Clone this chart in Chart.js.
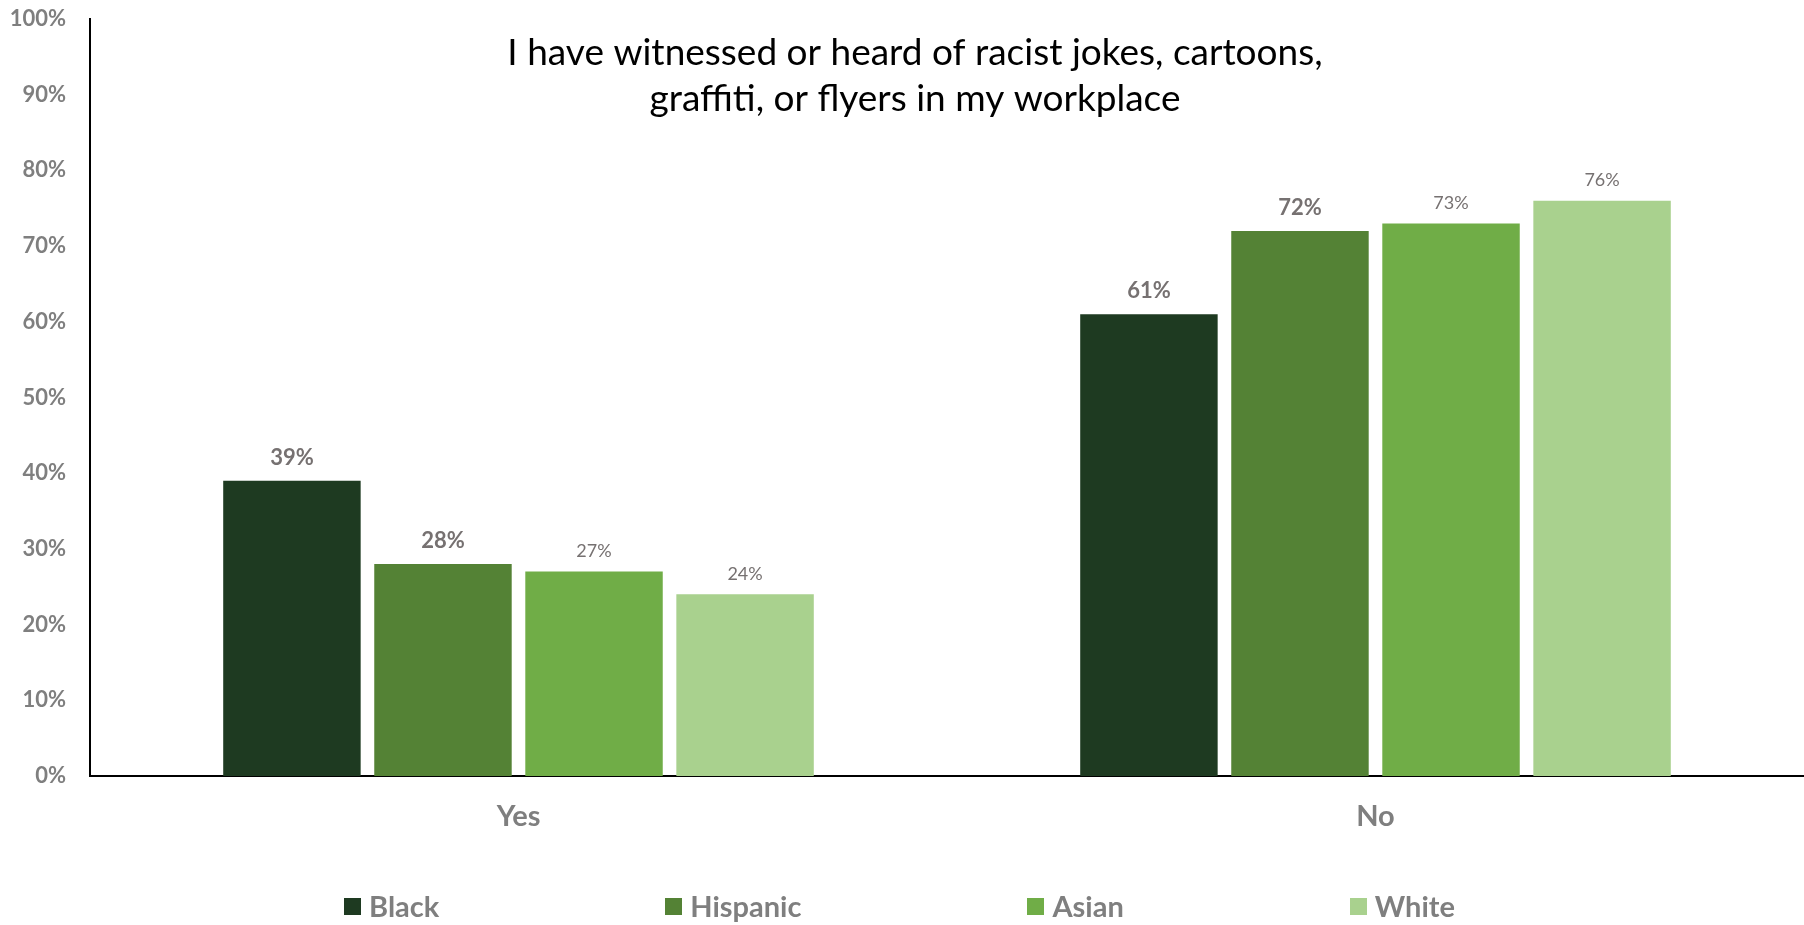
<!DOCTYPE html>
<html>
<head>
<meta charset="utf-8">
<script src="https://cdn.jsdelivr.net/npm/chart.js@4/dist/chart.umd.min.js"></script>
<style>
  html, body { margin: 0; padding: 0; background: #fff; }
  #wrap { position: relative; width: 1804px; height: 925px; }
  #legend {
    position: absolute; left: -5px; right: 0; top: 888px;
    display: flex; justify-content: center; gap: 226px;
    font-family: Lato, sans-serif; font-weight: bold; font-size: 29px; color: #7f7f7f;
  }
  #legend .item { display: flex; align-items: center; line-height: 36px; }
  #legend .box { width: 17px; height: 17px; margin-right: 8px; }
</style>
</head>
<body>
<div id="wrap">
  <canvas id="chart" width="1804" height="925"></canvas>
  <div id="legend"></div>
</div>
<script>
// Survey answers by group, in percent
const answers = ['Yes', 'No'];
const groups = ['Black', 'Hispanic', 'Asian', 'White'];
const black = [39, 61];
const hispanic = [28, 72];
const asian = [27, 73];
const white = [24, 76];
const yTicks = [0, 10, 20, 30, 40, 50, 60, 70, 80, 90, 100];

const titleLines = [
    'I have witnessed or heard of racist jokes, cartoons,',
    'graffiti, or flyers in my workplace'
];

const colors = ['#1e3a21', '#548235', '#70ad47', '#a9d18e'];
const series = [black, hispanic, asian, white];

// Two darker series get the bigger bold labels
const labelFonts = [
    {weight: 'bold', size: 22, offset: 23},
    {weight: 'bold', size: 22, offset: 23},
    {weight: 'normal', size: 18, offset: 20},
    {weight: 'normal', size: 18, offset: 20}
];

const valueLabels = {
    id: 'valueLabels',
    afterDatasetsDraw(chart) {
        const ctx = chart.ctx;
        ctx.save();
        ctx.fillStyle = '#767171';
        ctx.textAlign = 'center';
        ctx.textBaseline = 'middle';
        chart.data.datasets.forEach((ds, i) => {
            const f = labelFonts[i];
            ctx.font = f.weight + ' ' + f.size + 'px Lato';
            chart.getDatasetMeta(i).data.forEach((bar, j) => {
                ctx.fillText(ds.data[j] + '%', bar.x, bar.y - f.offset);
            });
        });
        ctx.restore();
    }
};

const titleText = {
    id: 'titleText',
    afterDraw(chart) {
        const ctx = chart.ctx;
        ctx.save();
        ctx.fillStyle = '#000';
        ctx.font = '37px Lato';
        ctx.textAlign = 'center';
        ctx.textBaseline = 'middle';
        titleLines.forEach((line, i) => {
            ctx.fillText(line, 915, 53 + i * 46);
        });
        ctx.restore();
    }
};

new Chart(document.getElementById('chart'), {
    type: 'bar',
    data: {
        labels: answers,
        datasets: groups.map((g, i) => ({
            label: g,
            data: series[i],
            backgroundColor: colors[i],
            categoryPercentage: 0.705,
            barPercentage: 0.91
        }))
    },
    options: {
        responsive: false,
        animation: false,
        layout: { padding: { top: 19, left: 0, right: 0, bottom: 0 } },
        plugins: {
            legend: { display: false },
            tooltip: { enabled: false }
        },
        scales: {
            x: {
                grid: { display: false },
                border: { display: true, color: '#000', width: 2 },
                ticks: {
                    padding: 15,
                    color: '#7f7f7f',
                    font: { family: 'Lato', weight: 'bold', size: 29 }
                },
                afterFit(scale) { scale.height = 149; }
            },
            y: {
                min: 0,
                max: 100,
                grid: { display: false },
                border: { display: true, color: '#000', width: 2 },
                afterBuildTicks(scale) {
                    scale.ticks = yTicks.map(v => ({ value: v }));
                },
                ticks: {
                    padding: 16,
                    color: '#7f7f7f',
                    font: { family: 'Lato', weight: 'bold', size: 22 },
                    callback: v => v + '%'
                },
                afterFit(scale) {
                    scale.width = 90;
                    scale.paddingTop = 0;
                }
            }
        }
    },
    plugins: [valueLabels, titleText]
});

// Legend row under the plot
const legend = document.getElementById('legend');
groups.forEach((g, i) => {
    const item = document.createElement('div');
    item.className = 'item';
    const box = document.createElement('span');
    box.className = 'box';
    box.style.background = colors[i];
    const text = document.createElement('span');
    text.textContent = g;
    item.appendChild(box);
    item.appendChild(text);
    legend.appendChild(item);
});
</script>
</body>
</html>
